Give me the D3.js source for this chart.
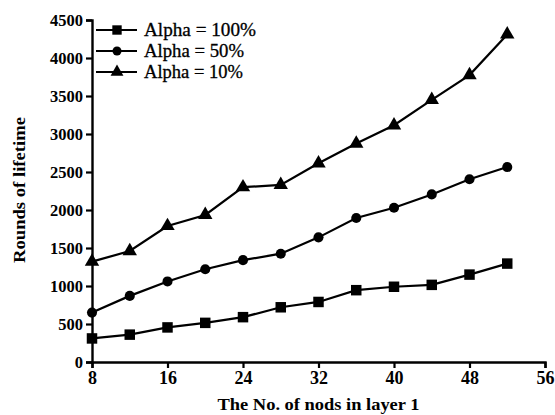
<!DOCTYPE html>
<html><head><meta charset="utf-8">
<script src="https://cdn.jsdelivr.net/npm/d3@7"></script>
<style>body{margin:0;background:#fff;}</style>
</head>
<body><svg id="c" width="555" height="415"></svg>
<script>
const xValues = [8,12,16,20,24,28,32,36,40,44,48,52];
const alpha100 = [310,360,455,515,590,720,790,945,990,1015,1150,1295];
const alpha50 = [650,870,1060,1220,1340,1425,1640,1895,2030,2205,2405,2565];
const alpha10 = [1320,1460,1790,1935,2300,2330,2615,2875,3115,3450,3775,4310];
const seriesNames = ["Alpha = 100%","Alpha = 50%","Alpha = 10%"];
const xTicks = [8,16,24,32,40,48,56];
const yTicks = [0,500,1000,1500,2000,2500,3000,3500,4000,4500];

const FONT = "Liberation Serif";
const svg = d3.select("#c");
const x = d3.scaleLinear().domain([8,56]).range([92, 545]);
const y = d3.scaleLinear().domain([0,4500]).range([362, 20]);

const gx = svg.append("g").attr("transform",`translate(0,${y(0)})`)
  .call(d3.axisBottom(x).tickValues(xTicks).tickFormat(d3.format("d")).tickSize(6).tickPadding(3));
const gy = svg.append("g").attr("transform",`translate(${x(8)},0)`)
  .call(d3.axisLeft(y).tickValues(yTicks).tickFormat(d3.format("d")).tickSize(6).tickPadding(3));
[gx,gy].forEach(g=>{
  g.attr("font-family",FONT);
  g.select(".domain").attr("stroke","#000").attr("stroke-width",2.4);
  g.selectAll(".tick line").attr("stroke","#000").attr("stroke-width",2.2);
});
gx.selectAll(".tick text").attr("font-family",FONT).style("font-size","18px").style("font-family",FONT).style("font-weight","bold").attr("fill","#000");
gy.selectAll(".tick text").attr("font-family",FONT).style("font-size","16.5px").style("font-family",FONT).style("font-weight","bold").attr("fill","#000");

svg.append("text").attr("x",x(32)).attr("y",410).attr("text-anchor","middle")
  .attr("font-family",FONT).style("font-family",FONT).style("font-weight","bold").style("font-size","17px")
  .attr("textLength",202).attr("lengthAdjust","spacingAndGlyphs")
  .text("The No. of nods in layer 1");
svg.append("text").attr("transform",`translate(25,190) rotate(-90)`).attr("text-anchor","middle")
  .attr("font-family",FONT).style("font-family",FONT).style("font-weight","bold").style("font-size","17px")
  .attr("textLength",146).attr("lengthAdjust","spacingAndGlyphs")
  .text("Rounds of lifetime");

const data = [alpha100, alpha50, alpha10];
const line = d3.line().x((d,i)=>x(xValues[i])).y(d=>y(d));
const symbols = [d3.symbolSquare, d3.symbolCircle, d3.symbolTriangle];
const sizes = [110, 80, 90];

data.forEach((s,k)=>{
  svg.append("path").datum(s).attr("d",line).attr("fill","none").attr("stroke","#000").attr("stroke-width",2.2);
  svg.append("g").selectAll("path").data(s).join("path")
    .attr("transform",(d,i)=>`translate(${x(xValues[i])},${y(d)})`)
    .attr("d",d3.symbol().type(symbols[k]).size(sizes[k])).attr("fill","#000");
});

const legendWidths = [112,100,99];
const lg = svg.append("g");
seriesNames.forEach((n,k)=>{
  const yy = 30 + k*21;
  lg.append("line").attr("x1",96).attr("x2",137).attr("y1",yy).attr("y2",yy).attr("stroke","#000").attr("stroke-width",2.2);
  lg.append("path").attr("transform",`translate(117,${yy})`).attr("d",d3.symbol().type(symbols[k]).size(sizes[k]*0.8)).attr("fill","#000");
  lg.append("text").attr("x",144).attr("y",yy+6)
    .attr("font-family",FONT).style("font-family",FONT).style("font-size","18px")
    .attr("textLength",legendWidths[k]).attr("lengthAdjust","spacingAndGlyphs")
    .attr("fill","#000").attr("stroke","#000").attr("stroke-width",0.3)
    .text(n);
});
</script></body></html>
